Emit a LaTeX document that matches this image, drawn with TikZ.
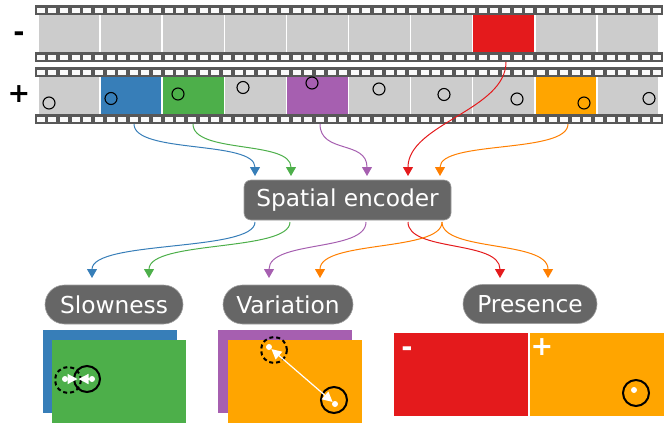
\documentclass[tikz,border=0pt]{standalone}
\usepackage{fontspec}
\setmainfont{DejaVu Sans}
\usetikzlibrary{arrows.meta,calc}
\definecolor{fgray}{HTML}{CCCCCC}
\definecolor{cblue}{HTML}{377EB8}
\definecolor{cgreen}{HTML}{4DAF4A}
\definecolor{cpurple}{HTML}{A65FB0}
\definecolor{cred}{HTML}{E41A1C}
\definecolor{corange}{HTML}{FFA500}
\definecolor{aorange}{HTML}{FF7F00}
\definecolor{boxgray}{HTML}{666666}
\definecolor{bandgray}{HTML}{585858}
\begin{document}
\begin{tikzpicture}[x=1pt,y=-1pt,
  band/.style={fill=bandgray},
  hole/.style={fill=white!96!gray},
  frame/.style={rectangle,inner sep=0pt,minimum width=60.6pt,minimum height=37pt},
  ring/.style={circle,draw=black,line width=1.1pt,inner sep=0pt,minimum size=12pt},
  bigring/.style={circle,draw=black,line width=2pt,inner sep=0pt,minimum size=26pt},
  wdot/.style={circle,fill=white,inner sep=0pt,minimum size=6pt},
  gbox/.style={fill=boxgray,draw=gray!75,line width=0.6pt,text=white,inner sep=0pt,
    font=\fontsize{23.3}{27}\selectfont},
  conn/.style={line width=1pt,-{Triangle[width=10pt,length=9pt]}},
  warrow/.style={white,line width=1.2pt},
  bigsign/.style={font=\bfseries\fontsize{27}{30}\selectfont,inner sep=0pt}
]
\useasboundingbox (0,0) rectangle (671,424);

% film strips
\foreach \yy in {5,67}{
  \fill[band] (35,\yy) rectangle (663,\yy+10);
  \fill[band] (35,\yy+47) rectangle (663,\yy+57);
  \foreach \j in {0,...,53}{
    \fill[hole] ({35+11.63*(\j+0.5)-4},\yy+2.5) rectangle +(8,5);
    \fill[hole] ({35+11.63*(\j+0.5)-4},\yy+49.5) rectangle +(8,5);
  }
}
% strip 1 frames
\foreach \i/\c in {0/fgray,1/fgray,2/fgray,3/fgray,4/fgray,5/fgray,6/fgray,7/cred,8/fgray,9/fgray}{
  \node[frame,fill=\c] (a\i) at ({38.75+62.1*\i+30.3},33.5) {};
}
% strip 2 frames
\foreach \i/\c in {0/fgray,1/cblue,2/cgreen,3/fgray,4/cpurple,5/fgray,6/fgray,7/fgray,8/corange,9/fgray}{
  \node[frame,fill=\c] (b\i) at ({38.75+62.1*\i+30.3},95.5) {};
}
% circles in strip 2
\foreach \n/\x/\y in {0/49/103,1/111/98.5,2/178/94,3/243/87.5,4/312/83,5/379/89,6/444/94.5,7/517/99,8/584/103,9/649/98.5}{
  \node[ring] (r\n) at (\x,\y) {};
}

\node[bigsign] (minus) at (19,37) {-};
\node[bigsign] (plus) at (19,94) {+};

% encoder
\node[gbox,rounded corners=7pt,minimum width=207pt,minimum height=40pt] (enc) at (347.5,200) {Spatial encoder};

% labels
\node[gbox,rounded corners=19.5pt,minimum width=138pt,minimum height=39pt] (slow) at (114,304.5) {Slowness};
\node[gbox,rounded corners=19.5pt,minimum width=130pt,minimum height=39pt] (var) at (288,304.5) {Variation};
\node[gbox,rounded corners=19.5pt,minimum width=134pt,minimum height=39pt] (pres) at (530,304) {Presence};

% connector end points
\coordinate (sb) at (134,124);
\coordinate (sg) at (193,124);
\coordinate (sp) at (320,124);
\coordinate (sr) at (506,62);
\coordinate (so) at (568,124);
\coordinate (eb) at (255,176);
\coordinate (eg) at (291,176);
\coordinate (ep) at (367,176);
\coordinate (er) at (408,176);
\coordinate (eo) at (440,176);
\coordinate (ob) at (255,222);
\coordinate (og) at (290,222);
\coordinate (op) at (366,222);
\coordinate (or) at (408,222);
\coordinate (oo) at (442,222);
\coordinate (tb) at (92,278);
\coordinate (tg) at (149,278);
\coordinate (tp) at (269,278);
\coordinate (to1) at (320,278);
\coordinate (tr) at (500,278);
\coordinate (to2) at (548,278);

\draw[conn,cblue] (sb) .. controls ($(sb)+(0,30)$) and ($(eb)+(0,-36)$) .. (eb);
\draw[conn,cgreen] (sg) .. controls ($(sg)+(0,30)$) and ($(eg)+(0,-36)$) .. (eg);
\draw[conn,cpurple] (sp) .. controls ($(sp)+(0,30)$) and ($(ep)+(0,-36)$) .. (ep);
\draw[conn,cred] (sr) .. controls ($(sr)+(0,48)$) and ($(er)+(0,-52)$) .. (er);
\draw[conn,aorange] (so) .. controls ($(so)+(0,30)$) and ($(eo)+(0,-36)$) .. (eo);

\draw[conn,cblue] (ob) .. controls ($(ob)+(0,30)$) and ($(tb)+(0,-38)$) .. (tb);
\draw[conn,cgreen] (og) .. controls ($(og)+(0,30)$) and ($(tg)+(0,-38)$) .. (tg);
\draw[conn,cpurple] (op) .. controls ($(op)+(0,30)$) and ($(tp)+(0,-38)$) .. (tp);
\draw[conn,cred] (or) .. controls ($(or)+(0,30)$) and ($(tr)+(0,-38)$) .. (tr);
\draw[conn,aorange] (oo) .. controls ($(oo)+(0,30)$) and ($(to1)+(0,-38)$) .. (to1);
\draw[conn,aorange] (oo) .. controls ($(oo)+(0,30)$) and ($(to2)+(0,-38)$) .. (to2);

% Slowness panel
\fill[cblue] (43,330) rectangle (177,413);
\fill[cgreen] (52,340) rectangle (186,423);
\node[bigring,dashed,dash pattern=on 4pt off 3pt] (sd) at (68,380) {};
\node[bigring] (ss) at (87,379) {};
\node[wdot] (sd0) at (65,379) {};
\node[wdot] (ss0) at (92,379) {};
\coordinate (smid) at (78,379);
\draw[warrow,-{Triangle[width=10pt,length=10pt]}] (sd0) -- ($(smid)+(-0.5,0)$);
\draw[warrow,-{Triangle[width=10pt,length=10pt]}] (ss0) -- ($(smid)+(0.5,0)$);

% Variation panel
\fill[cpurple] (218,330) rectangle (352,413);
\fill[corange] (228,340) rectangle (362,423);
\node[bigring,dashed,dash pattern=on 4pt off 3pt] (vd) at (274,350) {};
\node[bigring] (vs) at (334,400) {};
\node[wdot] (vd0) at (269,347) {};
\node[wdot] (vs0) at (335,404) {};
\draw[warrow,{Triangle[width=10pt,length=10pt]}-{Triangle[width=10pt,length=10pt]}] (vd0) -- (vs0);

% Presence panel
\fill[cred] (394,333) rectangle (528,416);
\fill[corange] (530,333) rectangle (664,416);
\node[bigsign,text=white] (pm) at (407,352) {-};
\node[bigsign,text=white] (pp) at (542,347) {+};
\node[bigring] (ps) at (636,393) {};
\node[wdot] (ps0) at (634,390) {};
\end{tikzpicture}
\end{document}
